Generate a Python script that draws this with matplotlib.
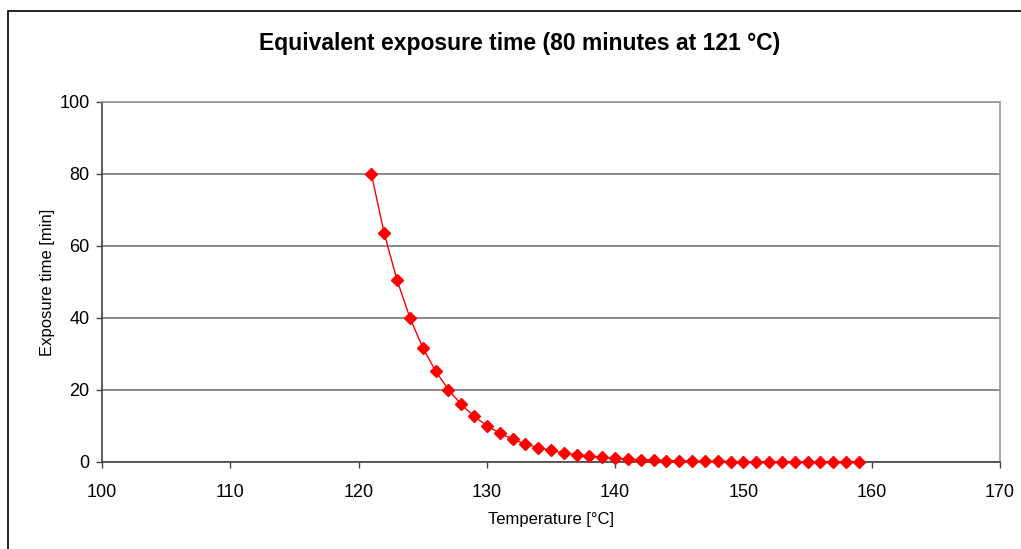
import matplotlib.pyplot as plt
from matplotlib.patches import Rectangle

plt.rcParams['font.family'] = ['Liberation Sans', 'DejaVu Sans']

temperature = list(range(121, 160))
exposure = [80.0, 63.5, 50.5, 40.1, 31.8, 25.3, 20.1, 16.0, 12.7, 10.1,
            8.0, 6.4, 5.0, 4.0, 3.2, 2.5, 2.0, 1.6, 1.3, 1.0,
            0.8, 0.6, 0.5, 0.4, 0.3, 0.25, 0.2, 0.16, 0.13, 0.1,
            0.08, 0.06, 0.05, 0.04, 0.03, 0.03, 0.02, 0.02, 0.01]
xticks = [100, 110, 120, 130, 140, 150, 160, 170]
yticks = [0, 20, 40, 60, 80, 100]

fig = plt.figure(figsize=(10.21, 5.49), dpi=100)
W, H = 1021, 549
# outer chart border (cut off at right and bottom)
fig.patches.append(Rectangle((8 / W, -0.05), 1.1, 1 - 11 / H + 0.05,
                             transform=fig.transFigure, fill=False,
                             edgecolor='black', linewidth=1.2))

ax = fig.add_axes([102 / W, 1 - 462 / H, (1000 - 102) / W, (462 - 102) / H])
ax.plot(temperature, exposure, color='red', marker='D', markersize=6,
        linewidth=1, clip_on=False, zorder=3)

ax.set_xlim(100, 170)
ax.set_ylim(0, 100)
ax.set_xticks(xticks)
ax.set_yticks(yticks)
ax.tick_params(direction='out', length=4, width=1, labelsize=13,
               color='#444444')
ax.tick_params(axis='x', pad=12)
ax.tick_params(axis='y', pad=5)
ax.grid(axis='y', color='#777777', linewidth=1.2)
ax.set_axisbelow(True)
for s in ['left', 'bottom']:
    ax.spines[s].set_color('#444444')
    ax.spines[s].set_linewidth(1.2)
for s in ['top', 'right']:
    ax.spines[s].set_color('#999999')
    ax.spines[s].set_linewidth(1.2)

ax.set_xlabel('Temperature [°C]', fontsize=12, labelpad=8)
ax.set_ylabel('Exposure time [min]', fontsize=12, labelpad=3)
fig.text(520 / W, 1 - 44 / H, 'Equivalent exposure time (80 minutes at 121 °C)',
         ha='center', va='center', fontsize=16.5, fontweight='bold')

fig.savefig('out.png', dpi=100)
